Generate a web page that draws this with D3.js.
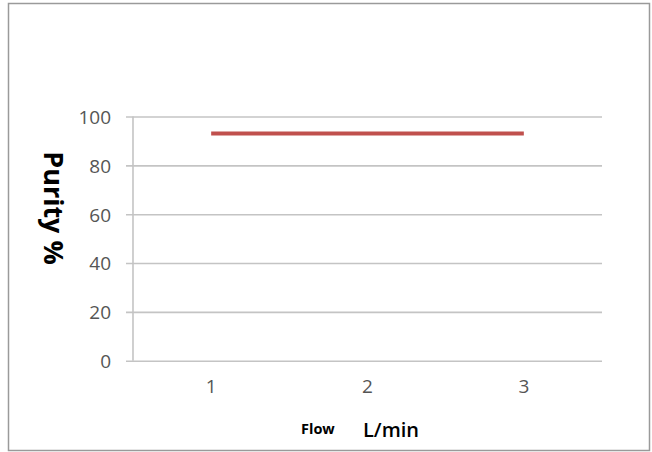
<!DOCTYPE html>
<html lang="en">
	<head>
		<meta charset="utf-8">
		<title>Purity vs Flow</title>
		<script type="text/javascript" src="https://d3js.org/d3.v7.min.js"></script>
		<style type="text/css">
            body { margin: 0; background: #fff; }
            .tick text {
                font-family: "Open Sans", sans-serif;
                font-size: 19px;
                fill: #555;
            }
		</style>
	</head>
	<body>
		<script type="text/javascript">

            //chart data
            var flows = ["1", "2", "3"];
            var purity = [93, 93, 93];
            var yTicks = [0, 20, 40, 60, 80, 100];

			//Width and height
			var w = 652;
			var h = 452;
            var margin = {left: 133, right: 50, top: 116.5, bottom: 91.3};

			var svg = d3.select("body")
				.append("svg")
				.attr("width", w)
				.attr("height", h);

            //outer frame
            svg.append("rect")
                .attr("x", 8.5).attr("y", 3.5)
                .attr("width", 641).attr("height", 447)
                .attr("fill", "none")
                .attr("stroke", "#9a9a9a")
                .attr("stroke-width", 1.5);

            var x = d3.scaleBand()
                .domain(flows)
                .range([margin.left, w - margin.right]);

            var y = d3.scaleLinear()
                .domain([0, 100])
                .range([h - margin.bottom, margin.top]);

            //y axis with gridlines
            var yAxis = svg.append("g")
                .attr("transform", "translate(" + margin.left + ",0)")
                .call(d3.axisLeft(y)
                    .tickValues(yTicks)
                    .tickSize(-(w - margin.right - margin.left))
                    .tickSizeOuter(0)
                    .tickPadding(22));
            yAxis.select(".domain").remove();
            yAxis.selectAll(".tick line")
                .attr("x1", -7)
                .attr("stroke", "#c4c4c4")
                .attr("stroke-width", 1.6);
            yAxis.selectAll(".tick text").attr("dy", "0.36em");

            //vertical axis line
            svg.append("line")
                .attr("x1", margin.left).attr("x2", margin.left)
                .attr("y1", y(100)).attr("y2", y(0))
                .attr("stroke", "#c4c4c4")
                .attr("stroke-width", 1.6);

            //x axis
            var xAxis = svg.append("g")
                .attr("transform", "translate(0," + y(0) + ")")
                .call(d3.axisBottom(x).tickSize(0).tickPadding(19));
            xAxis.select(".domain").remove();

            //series line
            var line = d3.line()
                .x(function(d, i) { return x(flows[i]) + x.bandwidth() / 2; })
                .y(function(d) { return y(d); });

            svg.append("path")
                .datum(purity)
                .attr("d", line)
                .attr("fill", "none")
                .attr("stroke", "#c0504d")
                .attr("stroke-width", 4);

            //axis titles
            svg.append("text")
                .attr("transform", "translate(44,208) rotate(90)")
                .attr("text-anchor", "middle")
                .attr("font-family", "Open Sans, sans-serif")
                .attr("font-weight", "bold")
                .attr("font-size", "27px")
                .attr("fill", "#000")
                .text("Purity %");

            svg.append("text")
                .attr("x", 301).attr("y", 434)
                .attr("font-family", "Open Sans, sans-serif")
                .attr("font-weight", "bold")
                .attr("font-size", "14.5px")
                .attr("fill", "#000")
                .text("Flow");

            svg.append("text")
                .attr("x", 363).attr("y", 437)
                .attr("font-family", "Open Sans, sans-serif")
                .attr("font-weight", "600")
                .attr("font-size", "20px")
                .attr("fill", "#000")
                .text("L/min");

		</script>
	</body>
</html>
